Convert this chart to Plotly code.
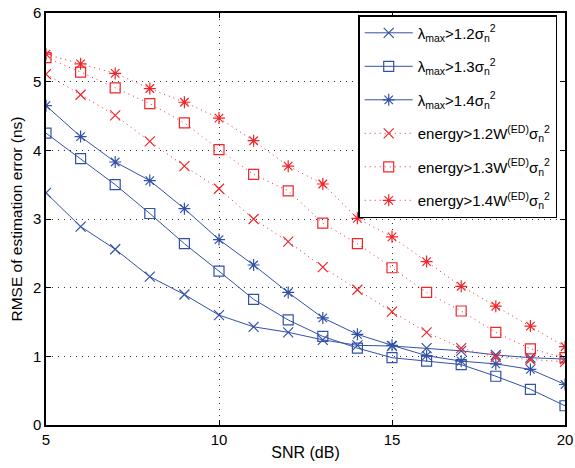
import plotly.graph_objects as go

snr = list(range(5, 21))

# RMSE (ns), eigenvalue detectors
lam_12 = [3.38, 2.89, 2.56, 2.16, 1.90, 1.60, 1.43, 1.35, 1.24, 1.16, 1.15, 1.12, 1.08, 1.02, 0.98, 0.96]
lam_13 = [4.25, 3.88, 3.50, 3.08, 2.64, 2.24, 1.83, 1.53, 1.29, 1.12, 0.98, 0.93, 0.88, 0.71, 0.52, 0.28]
lam_14 = [4.65, 4.20, 3.83, 3.56, 3.15, 2.70, 2.33, 1.93, 1.56, 1.32, 1.16, 1.01, 0.93, 0.89, 0.81, 0.59]

# RMSE (ns), energy detectors
en_12 = [5.11, 4.81, 4.51, 4.13, 3.77, 3.44, 3.00, 2.67, 2.30, 1.97, 1.65, 1.35, 1.12, 0.99, 0.95, 0.92]
en_13 = [5.35, 5.14, 4.91, 4.68, 4.40, 4.01, 3.65, 3.41, 2.94, 2.64, 2.29, 1.93, 1.66, 1.35, 1.11, 0.98]
en_14 = [5.40, 5.26, 5.12, 4.90, 4.70, 4.47, 4.14, 3.77, 3.51, 3.01, 2.74, 2.38, 2.02, 1.73, 1.44, 1.14]

names = [
    "λ<sub>max</sub>>1.2σ<sub>n</sub><sup>2</sup>",
    "λ<sub>max</sub>>1.3σ<sub>n</sub><sup>2</sup>",
    "λ<sub>max</sub>>1.4σ<sub>n</sub><sup>2</sup>",
    "energy>1.2W<sup>(ED)</sup>σ<sub>n</sub><sup>2</sup>",
    "energy>1.3W<sup>(ED)</sup>σ<sub>n</sub><sup>2</sup>",
    "energy>1.4W<sup>(ED)</sup>σ<sub>n</sub><sup>2</sup>",
]

blue = "#3252a6"
red = "#f0262b"

fig = go.Figure()
series = [lam_12, lam_13, lam_14, en_12, en_13, en_14]
symbols = ["x-thin-open", "square-open", "asterisk-open"] * 2
for i, ys in enumerate(series):
    col = blue if i < 3 else red
    dash = "solid" if i < 3 else "1px,4px"
    fig.add_trace(go.Scatter(
        x=snr, y=ys, name=names[i], mode="lines+markers", legendgroup=str(i),
        line=dict(color=col, width=1, dash=dash),
        marker=dict(symbol=symbols[i], size=10, color=col, line=dict(color=col, width=1.2)),
    ))

axis_common = dict(
    showline=True, linecolor="black", linewidth=1.5, mirror="ticks",
    ticks="inside", ticklen=5, tickcolor="black",
    showgrid=True, gridcolor="#333333", griddash="1px,5px", gridwidth=1,
    zeroline=False, tickfont=dict(size=15, color="black"),
    automargin=False, ticklabeloverflow="allow",
)

fig.update_xaxes(range=[5, 20], tickvals=[5, 10, 15, 20],
                 title=dict(text="SNR (dB)", font=dict(size=16), standoff=0), **axis_common)
fig.update_yaxes(range=[0, 6], tickvals=[0, 1, 2, 3, 4, 5, 6],
                 title=dict(text="RMSE of estimation error (ns)", font=dict(size=15.5), standoff=6), **axis_common)

fig.update_layout(
    width=575, height=468,
    margin=dict(l=46, r=10, t=13, b=43),
    plot_bgcolor="white", paper_bgcolor="white",
    font=dict(family="Liberation Sans, Arial", color="black"),
    legend=dict(x=0.985, y=0.995, xanchor="right", yanchor="top",
                bgcolor="white", bordercolor="black", borderwidth=1.5,
                font=dict(size=15), tracegroupgap=11, itemwidth=48),
)

fig.write_html("out.html", config={"displayModeBar": False},
               post_script="document.body.style.margin='0';")
